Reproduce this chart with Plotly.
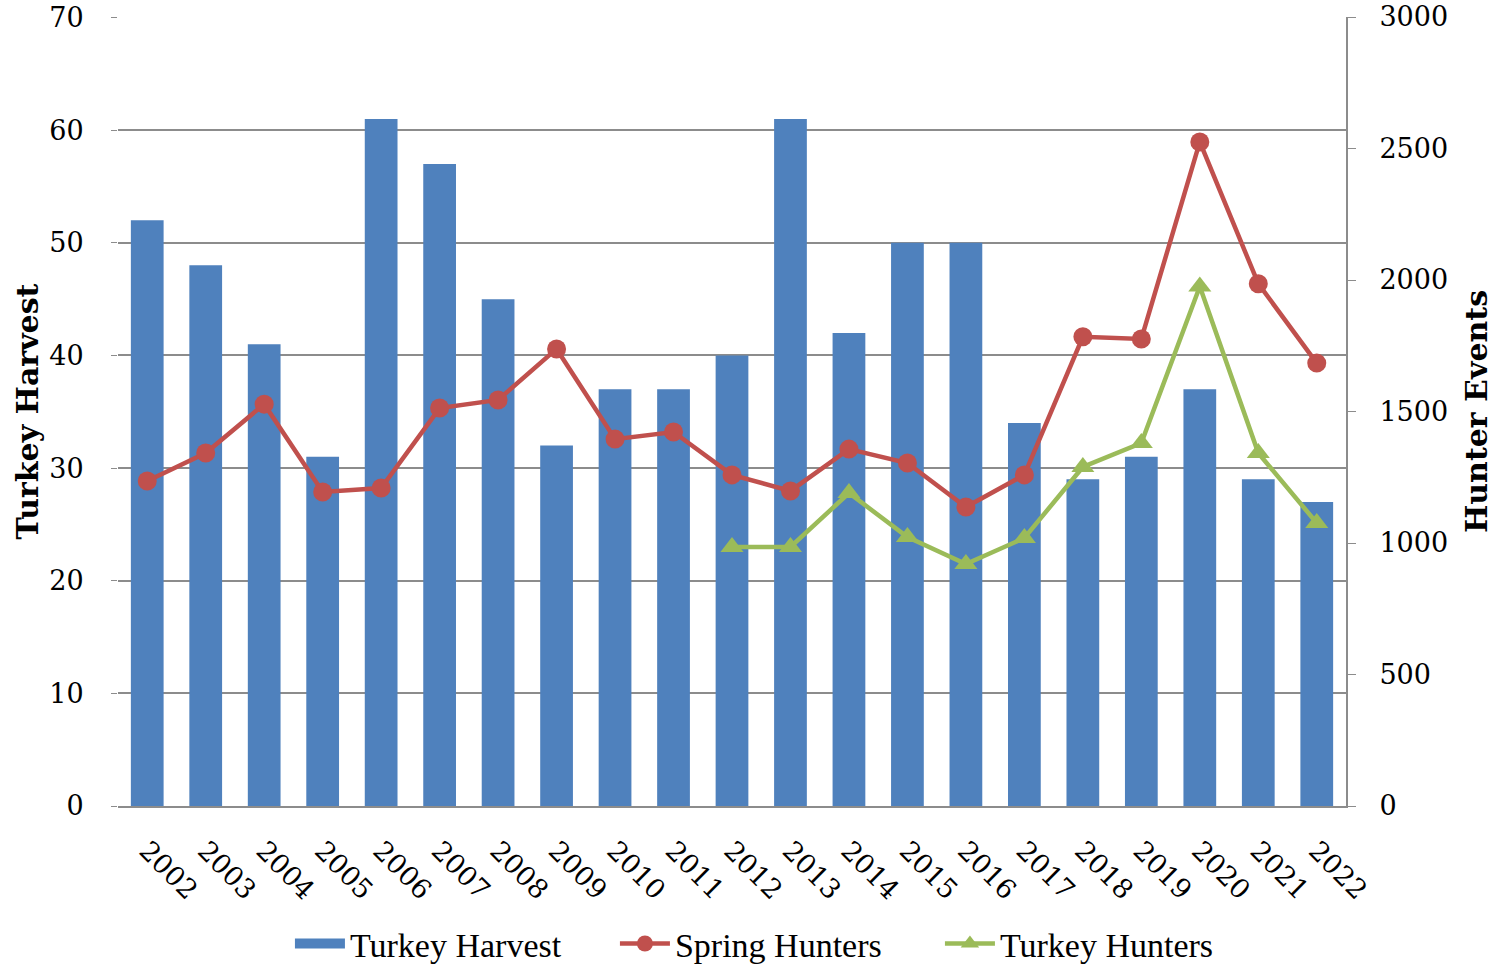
import plotly.graph_objects as go

years = [str(y) for y in range(2002, 2023)]
turkey_harvest = [52, 48, 41, 31, 61, 57, 45, 32, 37, 37, 40, 61, 42, 50, 50, 34, 29, 31, 37, 29, 27]
spring_hunters = [1236, 1342, 1528, 1194, 1209, 1513, 1544, 1738, 1395, 1422, 1259, 1198, 1357,
                  1304, 1137, 1259, 1784, 1776, 2525, 1986, 1684]
turkey_hunters = [None] * 10 + [985, 985, 1190, 1023, 920, 1019, 1289, 1380, 1975, 1342, 1076]

FONT = "DejaVu Serif"
LEG_FONT = "Liberation Serif"
BLUE, RED, GREEN = "#4F81BD", "#C0504D", "#9BBB59"

fig = go.Figure()
fig.add_trace(go.Bar(x=years, y=turkey_harvest, name="Turkey Harvest", showlegend=False,
                     legendgroup="harvest",
                     marker=dict(color=BLUE, line=dict(width=0)), yaxis="y"))
# legend-only entry drawn as a wide block like the reference swatch
fig.add_trace(go.Scatter(x=[None], y=[None], name="Turkey Harvest", mode="lines",
                         legendgroup="harvest", line=dict(color=BLUE, width=20), yaxis="y"))
fig.add_trace(go.Scatter(x=years, y=spring_hunters, name="Spring Hunters", mode="lines+markers",
                         line=dict(color=RED, width=4.5),
                         marker=dict(symbol="circle", size=19, color=RED), yaxis="y2"))
fig.add_trace(go.Scatter(x=years, y=turkey_hunters, name="Turkey Hunters", mode="lines+markers",
                         line=dict(color=GREEN, width=4.5),
                         marker=dict(symbol="triangle-up", size=20, color=GREEN), yaxis="y2"))

fig.update_layout(
    width=1499, height=967,
    margin=dict(l=118, r=153, t=17, b=161, autoexpand=False),
    paper_bgcolor="white", plot_bgcolor="white",
    bargap=0.44,
    font=dict(family=FONT, size=24, color="black"),
    showlegend=True,
    legend=dict(orientation="h", x=0.537, xanchor="center", y=-0.138, yanchor="top",
                font=dict(family=LEG_FONT, size=34), itemwidth=50, traceorder="normal",
                entrywidthmode="pixels", entrywidth=260),
    xaxis=dict(type="category", range=[-0.5, 20.5], tickangle=45, showgrid=False, showline=True,
               linecolor="#8c8c8c", linewidth=2, ticks="", ticklabelstandoff=16,
               automargin=False, ticklabeloverflow="allow", tickfont=dict(family=FONT, size=27)),
    yaxis=dict(range=[0, 70.05], tickvals=[0, 10, 20, 30, 40, 50, 60, 70], showgrid=True,
               gridcolor="#8c8c8c", gridwidth=2, automargin=False, ticklabeloverflow="allow",
               showline=False, ticks="outside", ticklen=6, tickcolor="#8c8c8c",
               ticklabelstandoff=22, zeroline=False,
               title=dict(text="<b>Turkey Harvest</b>", font=dict(family=FONT, size=30), standoff=1),
               tickfont=dict(family=FONT, size=27)),
    yaxis2=dict(range=[0, 3000], dtick=500, overlaying="y", side="right", showgrid=False,
                showline=True, linecolor="#8c8c8c", linewidth=2, ticks="outside", ticklen=8,
                tickcolor="#8c8c8c", ticklabelstandoff=18, zeroline=False, automargin=False,
                ticklabeloverflow="allow",
                title=dict(text="<b>Hunter Events</b>", font=dict(family=FONT, size=30), standoff=19),
                tickfont=dict(family=FONT, size=27)),
)

fig.write_html("out.html", config={"displayModeBar": False},
               post_script="document.body.style.margin='0';")
